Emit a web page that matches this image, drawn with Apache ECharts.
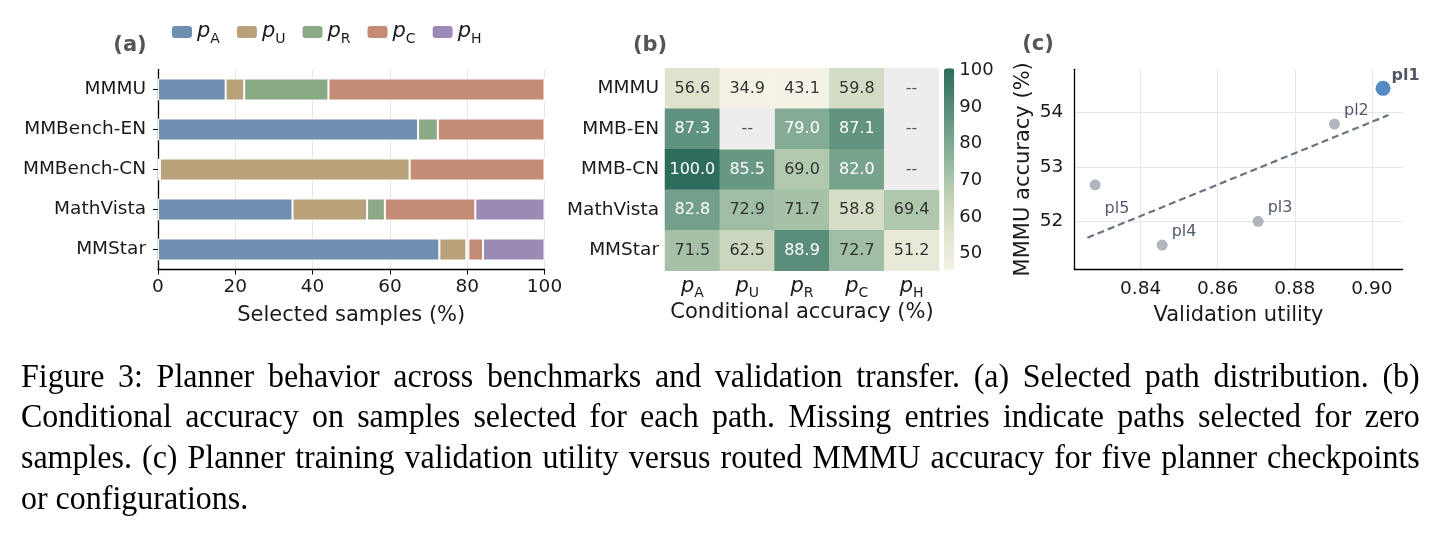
<!DOCTYPE html>
<html>
<head>
<meta charset="utf-8">
<script src="https://cdn.jsdelivr.net/npm/echarts@6/dist/echarts.min.js"></script>
<style>
html, body { margin: 0; padding: 0; background: #fff; }
#chart { position: absolute; left: 0; top: 0; width: 1442px; height: 534px; }
#caption { position: absolute; left: 21px; top: 355.5px; width: 1488px; transform: scaleX(0.94); transform-origin: 0 0; font-family: 'Liberation Serif', 'Times New Roman', serif; font-size: 34px; line-height: 40.7px; color: #000; }
#caption div { text-align: justify; text-align-last: justify; white-space: nowrap; }
#caption div.last { text-align-last: left; }
</style>
</head>
<body>
<div id="chart"></div>
<div id="caption">
<div>Figure 3: Planner behavior across benchmarks and validation transfer. (a) Selected path distribution. (b)</div>
<div>Conditional accuracy on samples selected for each path. Missing entries indicate paths selected for zero</div>
<div>samples. (c) Planner training validation utility versus routed MMMU accuracy for five planner checkpoints</div>
<div class="last">or configurations.</div>
</div>
<script>
// (a) selected path distribution, % of samples
const benchmarks = ['MMMU', 'MMBench-EN', 'MMBench-CN', 'MathVista', 'MMStar'];
const paths = ['pA', 'pU', 'pR', 'pC', 'pH'];
const shareA = [17.5, 67.3, 0.5, 34.8, 72.8];
const shareU = [4.8, 0, 64.6, 19.3, 7.0];
const shareR = [21.8, 5.1, 0, 4.6, 0.5];
const shareC = [55.9, 27.6, 34.9, 23.4, 3.8];
const shareH = [0, 0, 0, 17.9, 15.9];
const shareTicks = [0, 20, 40, 60, 80, 100];

// (b) conditional accuracy, null = path never selected
const heatRows = ['MMMU', 'MMB-EN', 'MMB-CN', 'MathVista', 'MMStar'];
const accMMMU = [56.6, 34.9, 43.1, 59.8, null];
const accMMBEN = [87.3, null, 79.0, 87.1, null];
const accMMBCN = [100.0, 85.5, 69.0, 82.0, null];
const accMathVista = [82.8, 72.9, 71.7, 58.8, 69.4];
const accMMStar = [71.5, 62.5, 88.9, 72.7, 51.2];
const colorbarTicks = [50, 60, 70, 80, 90, 100];

// (c) validation utility vs MMMU accuracy
const planners = ['pl1', 'pl2', 'pl3', 'pl4', 'pl5'];
const utility = [0.9029, 0.8903, 0.8705, 0.8456, 0.8282];
const mmmuAcc = [54.44, 53.785, 52.0, 51.565, 52.67];
const trendUtility = [0.8262, 0.9043];
const trendAcc = [51.70, 53.95];
const utilityTicks = [0.84, 0.86, 0.88, 0.90];
const accTicks = [52, 53, 54];

const font = 'DejaVu Sans';
const ink = '#1a1a1a';
const pathColors = ['#6e8fb0', '#b9a27a', '#8aa985', '#c48b75', '#9c8ab6'];
const shares = [shareA, shareU, shareR, shareC, shareH];

const subRich = {
  p: { fontFamily: font, fontStyle: 'italic', fontSize: 21, color: ink, lineHeight: 22, verticalAlign: 'top' },
  s: { fontFamily: font, fontSize: 14, color: ink, lineHeight: 14, padding: [11, 0, 0, 0], verticalAlign: 'top' }
};
const subLabel = n => '{p|p}{s|' + n.slice(1) + '}';

const myChart = echarts.init(document.getElementById('chart'));

const barSeries = paths.map((p, i) => ({
  name: p,
  type: 'bar',
  stack: 'share',
  xAxisIndex: 0,
  yAxisIndex: 0,
  barWidth: 22,
  itemStyle: { color: pathColors[i], borderColor: '#fff', borderWidth: 1 },
  data: shares[i]
}));

const accRows = [accMMMU, accMMBEN, accMMBCN, accMathVista, accMMStar];
const cells = [];
const missing = [];
accRows.forEach((row, y) => {
  row.forEach((v, x) => {
    if (v === null) {
      missing.push([x, y, 0]);
    } else {
      cells.push({ value: [x, y, v], label: { color: v > 75 ? '#fff' : '#333' } });
    }
  });
});

const scatterData = planners.map((n, i) => ({
  name: n,
  value: [utility[i], mmmuAcc[i]],
  symbolSize: n === 'pl1' ? 15 : 11,
  itemStyle: { color: n === 'pl1' ? '#2c6db3' : '#9ea3ae' },
  label: {
    offset: n === 'pl1' ? [-3, -13] : (n === 'pl5' ? [0, 24] : [0, -13]),
    fontWeight: n === 'pl1' ? 'bold' : 'normal'
  }
}));

const axisName = { fontFamily: font, fontSize: 21, color: ink };
const tickLabel = { fontFamily: font, fontSize: 18.5, color: ink };

const option = {
  backgroundColor: '#fff',
  animation: false,
  textStyle: { fontFamily: font },
  graphic: [
    { type: 'text', x: 130, y: 46, style: { text: '(a)', fontFamily: font, fontWeight: 'bold', fontSize: 21, fill: '#555', align: 'center', verticalAlign: 'middle' } },
    { type: 'text', x: 650, y: 46, style: { text: '(b)', fontFamily: font, fontWeight: 'bold', fontSize: 21, fill: '#555', align: 'center', verticalAlign: 'middle' } },
    { type: 'text', x: 1038, y: 45, style: { text: '(c)', fontFamily: font, fontWeight: 'bold', fontSize: 21, fill: '#555', align: 'center', verticalAlign: 'middle' } }
  ],
  legend: {
    data: paths,
    left: 172,
    top: 21,
    padding: 0,
    itemWidth: 20,
    itemHeight: 12,
    itemGap: 17,
    selectedMode: false,
    itemStyle: { borderWidth: 0 },
    formatter: subLabel,
    textStyle: { rich: subRich }
  },
  grid: [
    { left: 158, top: 69.5, width: 386.5, height: 200, outerBoundsMode: 'none' },
    { left: 665, top: 68.3, width: 274, height: 202.5, outerBoundsMode: 'none' },
    { left: 944, top: 68.3, width: 10.3, height: 202, outerBoundsMode: 'none' },
    { left: 1074.3, top: 69.3, width: 328.4, height: 200, outerBoundsMode: 'none' }
  ],
  xAxis: [
    {
      gridIndex: 0, type: 'value', min: 0, max: 100, interval: 20,
      axisLine: { show: true, lineStyle: { color: '#000', width: 1.3 } },
      axisTick: { show: true, length: 5, lineStyle: { color: '#000' } },
      axisLabel: Object.assign({ margin: 8 }, tickLabel),
      splitLine: { show: true, lineStyle: { color: '#e6e6e6', width: 1 } },
      name: 'Selected samples (%)', nameLocation: 'middle', nameGap: 36, nameTextStyle: axisName
    },
    {
      gridIndex: 1, type: 'category', data: paths,
      axisLine: { show: false }, axisTick: { show: false },
      axisLabel: { margin: 5, interval: 0, formatter: subLabel, rich: subRich },
      splitLine: { show: false },
      name: 'Conditional accuracy (%)', nameLocation: 'middle', nameGap: 29, nameTextStyle: axisName
    },
    { gridIndex: 2, type: 'value', show: false },
    {
      gridIndex: 3, type: 'value', min: 0.8228, max: 0.908,
      axisLine: { show: true, lineStyle: { color: '#000', width: 1.3 } },
      axisTick: { show: false, customValues: utilityTicks },
      axisLabel: Object.assign({ margin: 10, customValues: utilityTicks, formatter: v => v.toFixed(2) }, tickLabel),
      splitLine: { show: true, lineStyle: { color: '#e6e6e6', width: 1 } },
      name: 'Validation utility', nameLocation: 'middle', nameGap: 36, nameTextStyle: axisName
    }
  ],
  yAxis: [
    {
      gridIndex: 0, type: 'category', data: benchmarks, inverse: true,
      axisLine: { show: true, lineStyle: { color: '#000', width: 1.3 } },
      axisTick: { show: true, alignWithLabel: true, length: 5, lineStyle: { color: '#000' } },
      axisLabel: Object.assign({ margin: 12 }, tickLabel),
      splitLine: { show: false }
    },
    {
      gridIndex: 1, type: 'category', data: heatRows, inverse: true,
      axisLine: { show: false }, axisTick: { show: false },
      axisLabel: Object.assign({ margin: 6, interval: 0 }, tickLabel),
      splitLine: { show: false }
    },
    {
      gridIndex: 2, type: 'value', min: 45.5, max: 100.5, position: 'right',
      axisLine: { show: false },
      axisTick: { show: true, length: 4, customValues: colorbarTicks, lineStyle: { color: '#333' } },
      axisLabel: Object.assign({ margin: 5, customValues: colorbarTicks }, tickLabel, { fontSize: 18 }),
      splitLine: { show: false }
    },
    {
      gridIndex: 3, type: 'value', min: 51.12, max: 54.79,
      axisLine: { show: true, lineStyle: { color: '#000', width: 1.3 } },
      axisTick: { show: false, customValues: accTicks },
      axisLabel: Object.assign({ margin: 11, customValues: accTicks }, tickLabel),
      splitLine: { show: true, lineStyle: { color: '#e6e6e6', width: 1 } },
      name: 'MMMU accuracy (%)', nameLocation: 'middle', nameGap: 40, nameRotate: 90, nameTextStyle: axisName
    }
  ],
  visualMap: {
    type: 'continuous',
    min: 45.5,
    max: 100.5,
    seriesIndex: 5,
    calculable: false,
    hoverLink: false,
    orient: 'vertical',
    left: 944,
    top: 68.3,
    padding: 0,
    itemWidth: 10.3,
    itemHeight: 202,
    inRange: { color: ['#f4f1e5', '#dfe2cd', '#b8cdb2', '#86ad96', '#578c79', '#2c6a5d'] },
    outOfRange: { color: '#f4f1e5' }
  },
  series: barSeries.concat([
    {
      type: 'heatmap',
      xAxisIndex: 1,
      yAxisIndex: 1,
      data: cells,
      label: { show: true, fontFamily: font, fontSize: 16, formatter: p => p.value[2].toFixed(1) },
      emphasis: { disabled: true }
    },
    {
      type: 'heatmap',
      xAxisIndex: 1,
      yAxisIndex: 1,
      data: missing,
      itemStyle: { color: '#ededed' },
      label: { show: true, fontFamily: font, fontSize: 16, color: '#555', formatter: '--' },
      emphasis: { disabled: true }
    },
    {
      type: 'line',
      xAxisIndex: 3,
      yAxisIndex: 3,
      data: trendUtility.map((u, i) => [u, trendAcc[i]]),
      symbol: 'none',
      lineStyle: { color: '#6b7280', width: 2.2, type: [7, 4] },
      z: 2
    },
    {
      type: 'scatter',
      xAxisIndex: 3,
      yAxisIndex: 3,
      data: scatterData,
      label: { show: true, position: 'right', distance: 4, formatter: '{b}', fontFamily: font, fontSize: 16, color: '#263041' },
      z: 3
    }
  ])
};

myChart.setOption(option);
window.addEventListener('resize', myChart.resize);
</script>
</body>
</html>
